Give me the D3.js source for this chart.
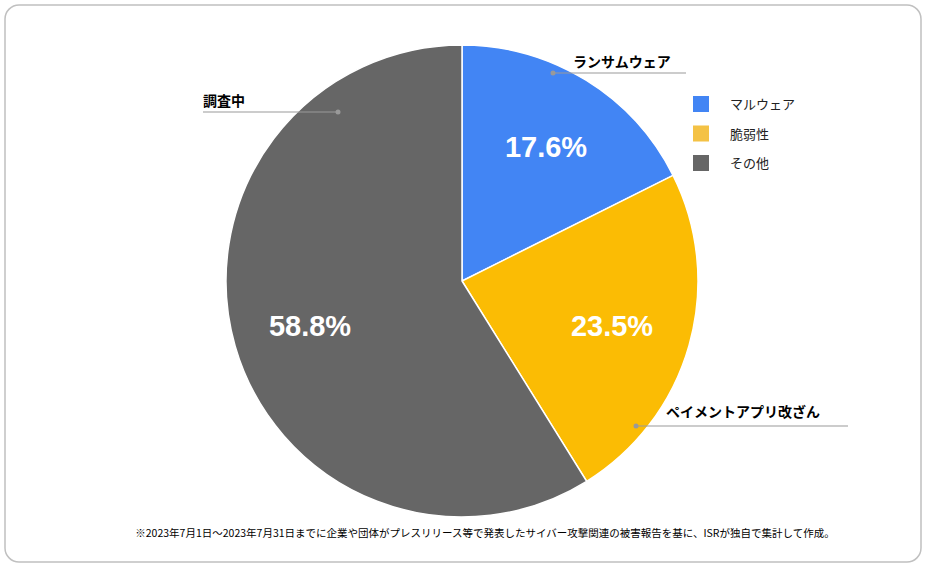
<!DOCTYPE html>
<html><head><meta charset="utf-8">
<script src="https://cdn.jsdelivr.net/npm/d3@7"></script>
<style>body{margin:0;background:#fff;font-family:"Noto Sans CJK JP",Arial,sans-serif}</style>
</head><body><svg id="c" width="927" height="568"></svg>
<script>
const categories=["ランサムウェア","ペイメントアプリ改ざん","調査中"];
const values=[17.6,23.5,58.8];
const colors=["#4285f4","#fbbc04","#666666"];
const legendLabels=["マルウェア","脆弱性","その他"];
const legendColors=["#4285f4","#f4c245","#666666"];
const note="※2023年7月1日～2023年7月31日までに企業や団体がプレスリリース等で発表したサイバー攻撃関連の被害報告を基に、ISRが独自で集計して作成。";

const svg=d3.select("#c");
svg.append("rect").attr("x",5).attr("y",5).attr("width",916).attr("height",557).attr("rx",14)
  .attr("fill","#fff").attr("stroke","#c0c0c0").attr("stroke-width",1.5);
const cx=462,cy=281,R=236;
const g=svg.append("g").attr("transform",`translate(${cx},${cy})`);
const pie=d3.pie().sort(null).value(d=>d)(values);
const arc=d3.arc().innerRadius(0).outerRadius(R);
g.selectAll("path").data(pie).join("path").attr("d",arc).attr("fill",(d,i)=>colors[i])
  .attr("stroke","#fff").attr("stroke-width",1.5);
const lab=d3.arc().innerRadius(R*0.6).outerRadius(R*0.6);
const pctPos=[[84,-134],[150,45],[-152,45]];
g.selectAll("text.p").data(pie).join("text").attr("x",(d,i)=>pctPos[i][0]).attr("y",(d,i)=>pctPos[i][1])
  .attr("text-anchor","middle").attr("dy","0.35em").attr("fill","#fff")
  .style("font-family","Arial,Liberation Sans,sans-serif").style("font-weight","bold").style("font-size","29px")
  .text(d=>d.data.toFixed(1)+"%");
// callouts
const callouts=[
 {t:categories[0],dot:[553,73],x1:553,x2:686,tx:573,ty:67},
 {t:categories[1],dot:[636,426],x1:636,x2:848,tx:666,ty:417},
 {t:categories[2],dot:[338,112],x1:203,x2:338,tx:203,ty:106}];
callouts.forEach(c=>{
 svg.append("line").attr("x1",c.x1).attr("x2",c.x2).attr("y1",c.dot[1]).attr("y2",c.dot[1]).attr("stroke","#999").attr("stroke-width",1.2);
 svg.append("circle").attr("cx",c.dot[0]).attr("cy",c.dot[1]).attr("r",2.5).attr("fill","#999");
 svg.append("text").attr("x",c.tx).attr("y",c.ty).style("font-size","14px").style("font-weight","bold").attr("fill","#000").text(c.t);
});
legendLabels.forEach((l,i)=>{
 const y=96+i*29.5;
 svg.append("rect").attr("x",693).attr("y",y).attr("width",16).attr("height",16).attr("fill",legendColors[i]);
 svg.append("text").attr("x",730).attr("y",y+13).style("font-size","13px").attr("fill","#222").text(l);
});
svg.append("text").attr("x",485).attr("y",537).attr("text-anchor","middle").style("font-size","10.5px").attr("fill","#000").text(note);
</script></body></html>
